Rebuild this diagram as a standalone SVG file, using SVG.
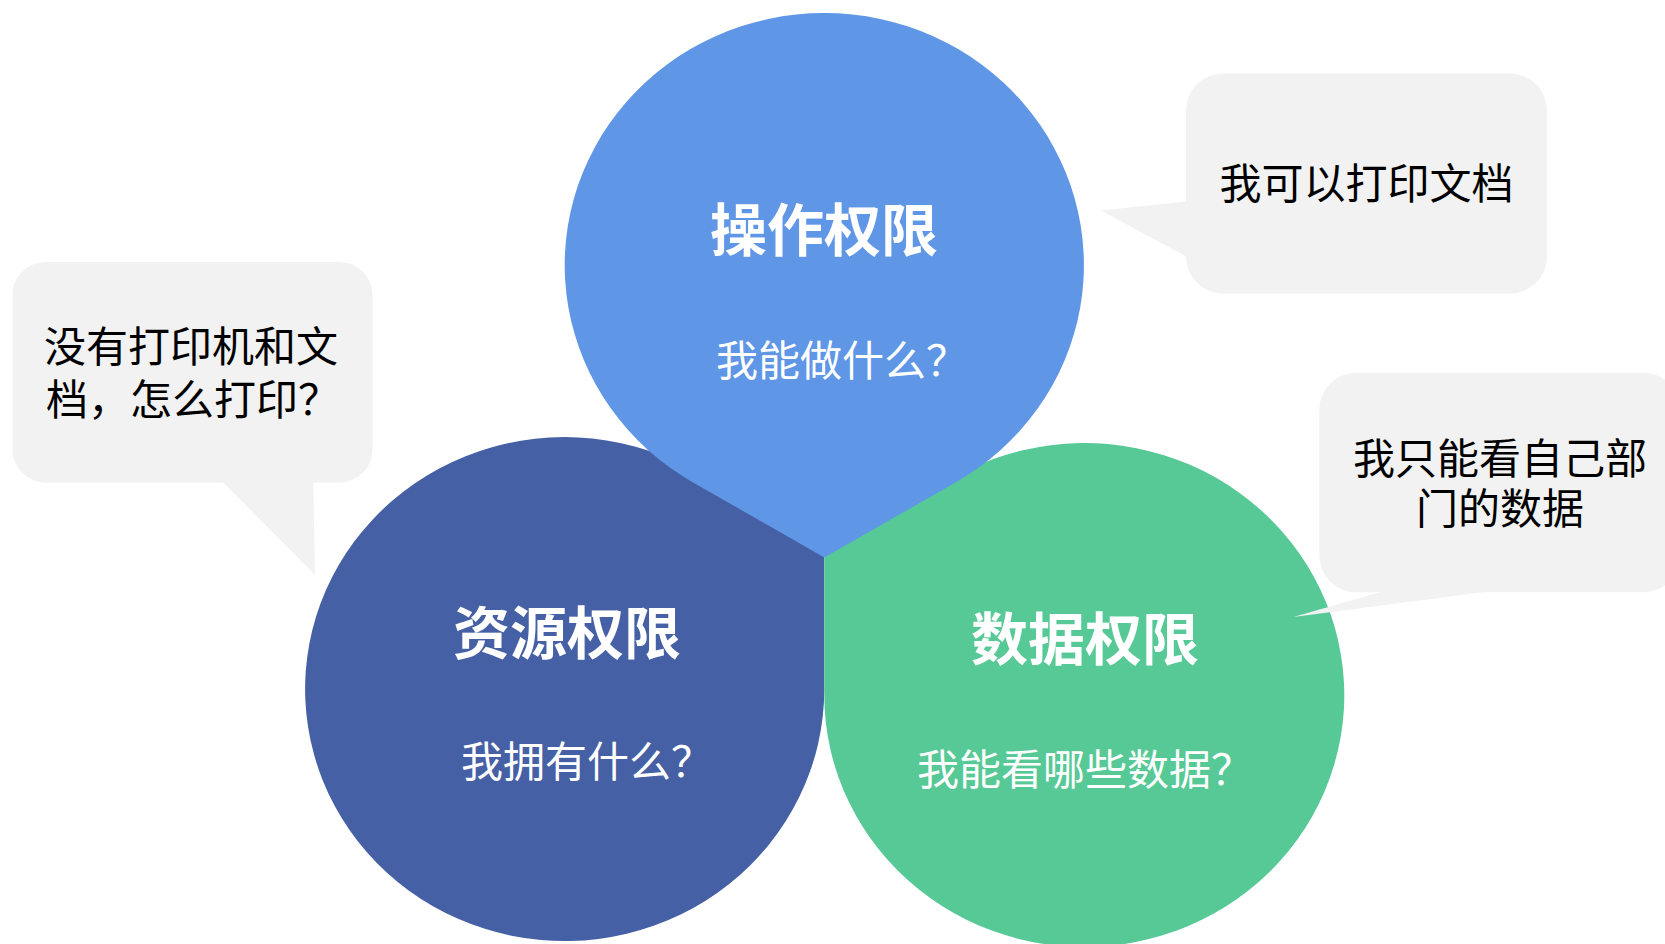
<svg xmlns="http://www.w3.org/2000/svg" width="1665" height="944" viewBox="0 0 1665 944">
<style>
.bg{fill:#ffffff}
.op{fill:#6096E6}
.res{fill:#4660A5}
.dat{fill:#56C996}
.bub{fill:#F2F2F2}
.t{font-family:"Noto Sans CJK SC","Noto Sans",sans-serif;fill:#ffffff;font-weight:700;font-size:57px}
.s{font-family:"Noto Sans CJK SC","Noto Sans",sans-serif;fill:#ffffff;font-weight:400;font-size:42px}
.b{font-family:"Noto Sans CJK SC","Noto Sans",sans-serif;fill:#000000;font-weight:400;font-size:42px}
</style>
<rect class="bg" x="0" y="0" width="1665" height="944"/>
<g id="resource">
<path class="res" d="M824.3,557 L824.3,689 A259.6,252 0 1 1 712.5,481.9 Z"/>
<text class="t" x="453" y="654">资源权限</text>
<text class="s" x="461" y="777">我拥有什么？</text>
</g>
<g id="data">
<path class="dat" d="M824.3,557 L944.3,482.7 A260,252 0 1 1 824.3,695 Z"/>
<text class="t" x="971" y="660">数据权限</text>
<text class="s" x="917" y="785">我能看哪些数据？</text>
</g>
<g id="operation">
<path class="op" d="M824.3,557.4 L692.6,482.2 A259.6,252 0 1 1 956,482.2 Z"/>
<text class="t" x="710" y="251">操作权限</text>
<text class="s" x="716" y="376">我能做什么？</text>
</g>
<g id="bubble-left">
<rect class="bub" x="12.5" y="262" width="360" height="220.5" rx="33"/>
<polygon class="bub" points="211,470 313,470 315,575"/>
<text class="b" x="44" y="362">没有打印机和文</text>
<text class="b" x="46" y="415">档，怎么打印？</text>
</g>
<g id="bubble-top-right">
<rect class="bub" x="1186" y="73.5" width="361" height="220" rx="37"/>
<polygon class="bub" points="1101,210.5 1200,200.1 1200,264"/>
<text class="b" x="1366.5" y="199" text-anchor="middle">我可以打印文档</text>
</g>
<g id="bubble-bottom-right">
<rect class="bub" x="1319.3" y="372.7" width="361" height="219.6" rx="37"/>
<polygon class="bub" points="1293.3,617 1423,580 1575,580"/>
<text class="b" x="1500" y="474" text-anchor="middle">我只能看自己部</text>
<text class="b" x="1500" y="524" text-anchor="middle">门的数据</text>
</g>
<g id="connectors"/>
</svg>
